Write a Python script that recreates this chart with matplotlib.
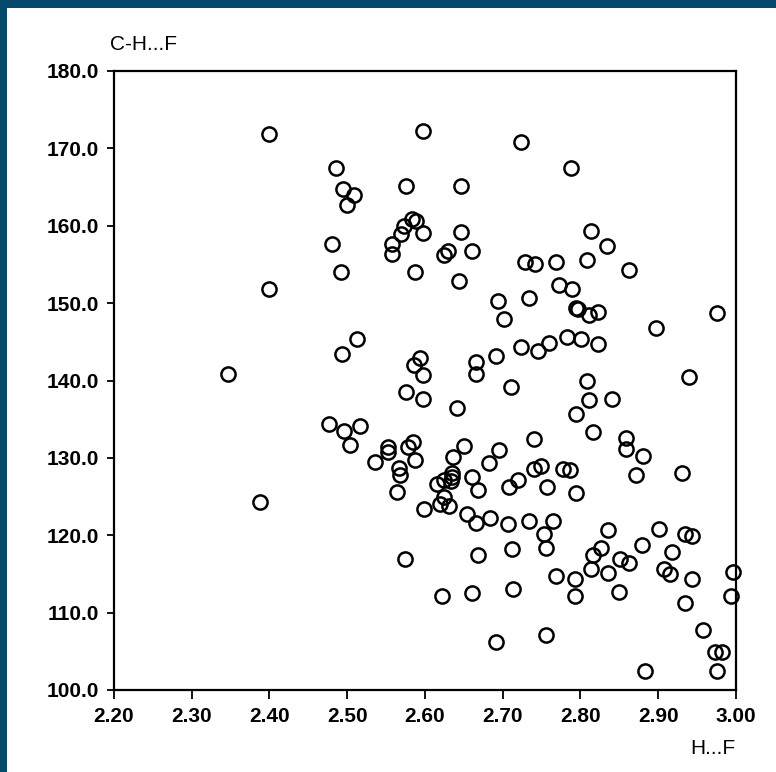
import matplotlib
matplotlib.use("Agg")
import matplotlib.pyplot as plt
from matplotlib.patches import Rectangle

plt.rcParams['font.family'] = ['Liberation Sans', 'DejaVu Sans']

# H...F distance (x) and C-H...F angle (y)
h_f = [2.400, 2.598, 2.724, 2.788, 2.485, 2.575, 2.646, 2.494, 2.509, 2.500,
       2.583, 2.588, 2.573, 2.569, 2.558, 2.558, 2.598, 2.646, 2.481, 2.629,
       2.624, 2.660, 2.587, 2.492, 2.644, 2.400, 2.814, 2.834, 2.729, 2.742,
       2.768, 2.808, 2.863, 2.772, 2.789, 2.694, 2.734, 2.702, 2.794, 2.797,
       2.811, 2.822, 2.976, 2.897, 2.783, 2.801, 2.822, 2.760, 2.745, 2.724,
       2.691, 2.512, 2.493, 2.346, 2.593, 2.586, 2.597, 2.666, 2.666, 2.809,
       2.940, 2.575, 2.597, 2.711, 2.641, 2.811, 2.841, 2.794, 2.816, 2.859,
       2.858, 2.880, 2.872, 2.931, 2.740, 2.695, 2.682, 2.650, 2.636, 2.635,
       2.635, 2.634, 2.615, 2.625, 2.661, 2.668, 2.708, 2.719, 2.740, 2.749,
       2.757, 2.777, 2.786, 2.794, 2.477, 2.496, 2.517, 2.504, 2.553, 2.552,
       2.536, 2.578, 2.585, 2.587, 2.566, 2.568, 2.564, 2.388, 2.625, 2.619,
       2.631, 2.599, 2.654, 2.666, 2.683, 2.707, 2.734, 2.764, 2.753, 2.756,
       2.712, 2.668, 2.574, 2.836, 2.826, 2.816, 2.813, 2.835, 2.851, 2.862,
       2.879, 2.901, 2.918, 2.935, 2.944, 2.907, 2.915, 2.943, 2.996, 2.994,
       2.934, 2.850, 2.793, 2.793, 2.768, 2.713, 2.661, 2.622, 2.958, 2.973,
       2.982, 2.976, 2.883, 2.756, 2.691]
chf_angle = [171.9, 172.3, 170.8, 167.5, 167.4, 165.2, 165.2, 164.7, 164.0, 162.7,
             160.9, 160.6, 160.0, 158.9, 157.6, 156.4, 159.0, 159.2, 157.7, 156.8,
             156.2, 156.8, 154.0, 154.0, 152.8, 151.8, 159.3, 157.4, 155.3, 155.1,
             155.3, 155.6, 154.3, 152.3, 151.8, 150.3, 150.7, 147.9, 149.4, 149.3,
             148.5, 148.8, 148.7, 146.8, 145.6, 145.3, 144.7, 144.9, 143.8, 144.3,
             143.2, 145.3, 143.4, 140.9, 142.9, 142.0, 140.7, 142.4, 140.9, 140.0,
             140.4, 138.5, 137.6, 139.1, 136.5, 137.5, 137.6, 135.7, 133.3, 132.6,
             131.1, 130.3, 127.8, 128.0, 132.4, 131.0, 129.4, 131.5, 130.1, 128.1,
             127.5, 127.0, 126.6, 127.2, 127.5, 125.9, 126.2, 127.2, 128.5, 128.9,
             126.2, 128.6, 128.4, 125.5, 134.4, 133.5, 134.1, 131.7, 131.4, 130.7,
             129.5, 131.4, 132.0, 129.7, 128.7, 127.8, 125.6, 124.3, 125.0, 124.1,
             123.8, 123.4, 122.7, 121.6, 122.2, 121.4, 121.8, 121.8, 120.2, 118.3,
             118.2, 117.4, 116.9, 120.7, 118.3, 117.4, 115.6, 115.1, 116.9, 116.4,
             118.8, 120.8, 117.8, 120.2, 119.9, 115.6, 115.0, 114.4, 115.2, 112.2,
             111.3, 112.7, 114.3, 112.1, 114.7, 113.1, 112.6, 112.1, 107.8, 104.9,
             104.9, 102.5, 102.4, 107.1, 106.2]

x_ticks = [2.20, 2.30, 2.40, 2.50, 2.60, 2.70, 2.80, 2.90, 3.00]
y_ticks = [100.0, 110.0, 120.0, 130.0, 140.0, 150.0, 160.0, 170.0, 180.0]
x_label = "H...F"
y_label = "C-H...F"

W, H = 776, 772
fig = plt.figure(figsize=(W / 100, H / 100), dpi=100, facecolor='white')

border = '#054a6d'
fig.patches.append(Rectangle((0, 0), 7 / W, 1, transform=fig.transFigure,
                             facecolor=border, edgecolor='none', zorder=0))
fig.patches.append(Rectangle((0, 1 - 8 / H), 1, 8 / H, transform=fig.transFigure,
                             facecolor=border, edgecolor='none', zorder=0))

left, right = 114 / W, 736 / W
bottom, top = 1 - 690 / H, 1 - 71 / H
ax = fig.add_axes([left, bottom, right - left, top - bottom])

ax.plot(h_f, chf_angle, linestyle='none', marker='o', markersize=10.2,
        markerfacecolor='none', markeredgecolor='black', markeredgewidth=1.8,
        clip_on=False)

ax.set_xlim(2.2, 3.0)
ax.set_ylim(100, 180)
ax.set_xticks(x_ticks)
ax.set_xticklabels([f"{v:.2f}" for v in x_ticks])
ax.set_yticks(y_ticks)
ax.set_yticklabels([f"{v:.1f}" for v in y_ticks])

for s in ax.spines.values():
    s.set_linewidth(1.6)
    s.set_color('black')

ax.tick_params(axis='x', direction='out', length=6.5, width=1.3, pad=5.5,
               labelsize=15, colors='black')
ax.tick_params(axis='y', direction='out', length=5, width=1.3, pad=6,
               labelsize=15, colors='black')
for lab in ax.get_xticklabels() + ax.get_yticklabels():
    lab.set_fontweight('bold')

fig.text(110 / W, 1 - 45 / H, y_label, ha='left', va='center', fontsize=15)
fig.text(735 / W, 1 - 748 / H, x_label, ha='right', va='center', fontsize=15)

fig.savefig('out.png', dpi=100, facecolor='white')
